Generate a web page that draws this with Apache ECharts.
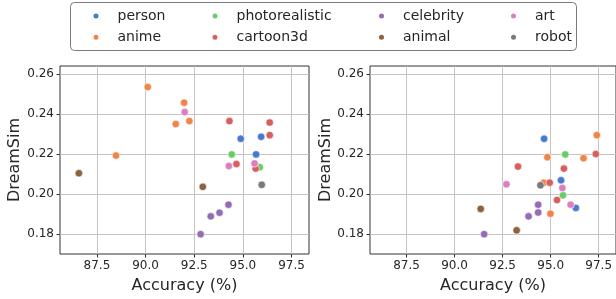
<!DOCTYPE html>
<html>
<head>
<meta charset="UTF-8">
<title></title>
<script src="https://cdn.jsdelivr.net/npm/echarts@6/dist/echarts.min.js"></script>
<style>
  html, body { margin: 0; padding: 0; background: #fff; }
</style>
</head>
<body>
<div id="main" style="width:616px;height:299px;"></div>
<script>
// categories, in legend order (column by column)
var categories = ['person', 'anime', 'photorealistic', 'cartoon3d', 'celebrity', 'animal', 'art', 'robot'];
var colors = ['#4878d0', '#ee854a', '#6acc64', '#d65f5f', '#956cb4', '#8c613c', '#dc7ec0', '#797979'];

var xTicks = [87.5, 90.0, 92.5, 95.0, 97.5];
var yTicks = [0.18, 0.20, 0.22, 0.24, 0.26];

// left panel: [accuracy, dreamsim]
var personL = [[94.89, 0.2276], [95.94, 0.2286], [95.68, 0.2198]];
var animeL = [[90.11, 0.2534], [91.98, 0.2456], [92.25, 0.2364], [91.55, 0.2349], [88.48, 0.2192]];
var photoL = [[94.43, 0.2198], [95.87, 0.2134]];
var cartoonL = [[94.31, 0.2364], [96.38, 0.2357], [96.38, 0.2294], [94.67, 0.2150], [95.66, 0.2127]];
var celebL = [[94.26, 0.1947], [93.80, 0.1907], [93.35, 0.1889], [92.83, 0.1800]];
var animalL = [[86.57, 0.2104], [92.94, 0.2036]];
var artL = [[92.01, 0.2409], [94.28, 0.2140], [95.60, 0.2153]];
var robotL = [[95.97, 0.2046]];

// right panel
var personR = [[94.66, 0.2276], [95.54, 0.2069], [96.31, 0.1931]];
var animeR = [[97.40, 0.2294], [94.83, 0.2184], [96.71, 0.2179], [94.64, 0.2056], [94.99, 0.1902]];
var photoR = [[95.76, 0.2198], [95.64, 0.1994]];
var cartoonR = [[97.35, 0.2200], [93.30, 0.2137], [95.69, 0.2127], [94.95, 0.2057], [95.33, 0.1970]];
var celebR = [[94.35, 0.1947], [94.35, 0.1908], [93.85, 0.1889], [91.54, 0.1800]];
var animalR = [[91.36, 0.1926], [93.23, 0.1819]];
var artR = [[92.70, 0.2049], [95.61, 0.2030], [96.04, 0.1947]];
var robotR = [[94.47, 0.2044]];

var leftSets = [personL, animeL, photoL, cartoonL, celebL, animalL, artL, robotL];
var rightSets = [personR, animeR, photoR, cartoonR, celebR, animalR, artR, robotR];

var font = 'DejaVu Sans';

function makeX(idx) {
  return {
    type: 'value', gridIndex: idx, min: 85.6, max: 98.4,
    name: 'Accuracy (%)', nameLocation: 'middle', nameGap: 24,
    nameTextStyle: { fontFamily: font, fontSize: 16, color: '#262626' },
    axisLine: { show: false },
    axisTick: { show: true, length: 3.5, customValues: xTicks, lineStyle: { color: '#333' } },
    axisLabel: { customValues: xTicks, fontFamily: font, fontSize: 12, color: '#262626', margin: 6,
      formatter: function (v) { return v.toFixed(1); } },
    splitLine: { show: true, lineStyle: { color: '#c4c4c4', width: 1 } }
  };
}
function makeY(idx, gap) {
  return {
    type: 'value', gridIndex: idx, min: 0.1701, max: 0.2639,
    name: 'DreamSim', nameLocation: 'middle', nameGap: gap,
    nameTextStyle: { fontFamily: font, fontSize: 16, color: '#262626' },
    axisLine: { show: false },
    axisTick: { show: true, length: 3.5, customValues: yTicks, lineStyle: { color: '#333' } },
    axisLabel: { customValues: yTicks, fontFamily: font, fontSize: 12, color: '#262626', margin: 6,
      formatter: function (v) { return v.toFixed(2); } },
    splitLine: { show: true, lineStyle: { color: '#c4c4c4', width: 1 } }
  };
}

var series = [];
[leftSets, rightSets].forEach(function (sets, g) {
  sets.forEach(function (d, i) {
    series.push({
      name: categories[i], type: 'scatter', xAxisIndex: g, yAxisIndex: g,
      data: d, symbolSize: 7.5, color: colors[i],
      itemStyle: { color: colors[i], borderColor: '#fff', borderWidth: 0.6, opacity: 1 },
      emphasis: { disabled: true }
    });
  });
});

var legendCols = [[categories[0], categories[1]], [categories[2], categories[3]],
                  [categories[4], categories[5]], [categories[6], categories[7]]];
var legendLeft = [86.5, 205.5, 372, 504];
var legends = legendCols.map(function (names, i) {
  return {
    data: names, orient: 'vertical', left: legendLeft[i], top: 3,
    icon: 'circle', itemWidth: 7, itemHeight: 7, itemGap: 5.3,
    textStyle: { fontFamily: font, fontSize: 14, color: '#262626', lineHeight: 16, padding: [0, 0, 0, 13] },
    selectedMode: false
  };
});

var myChart = echarts.init(document.getElementById('main'), null, { renderer: 'canvas' });
myChart.setOption({
  animation: false,
  color: colors,
  graphic: [{
    type: 'rect', left: 70, top: 2, z: -1,
    shape: { width: 506, height: 48, r: 4 },
    style: { fill: '#fff', stroke: '#7a7a7a', lineWidth: 1 }
  }],
  legend: legends,
  grid: [
    { left: 60, top: 66, width: 249, height: 193, show: true, borderColor: '#333', borderWidth: 1, containLabel: false },
    { left: 370, top: 66, width: 249, height: 193, show: true, borderColor: '#333', borderWidth: 1, containLabel: false }
  ],
  xAxis: [makeX(0), makeX(1)],
  yAxis: [makeY(0, 37), makeY(1, 36)],
  series: series
});
</script>
</body>
</html>
